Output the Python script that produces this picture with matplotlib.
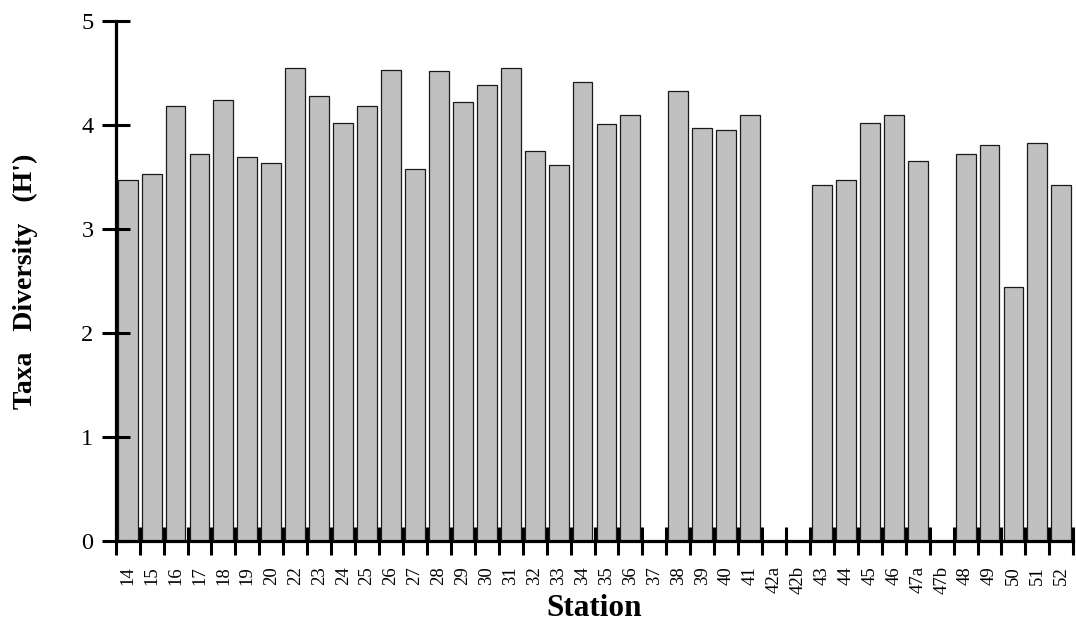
import matplotlib
matplotlib.use("Agg")
import matplotlib.pyplot as plt
import numpy as np

stations = ["14", "15", "16", "17", "18", "19", "20", "22", "23", "24",
            "25", "26", "27", "28", "29", "30", "31", "32", "33", "34",
            "35", "36", "37", "38", "39", "40", "41", "42a", "42b", "43",
            "44", "45", "46", "47a", "47b", "48", "49", "50", "51", "52"]
diversity = [3.47, 3.53, 4.18, 3.72, 4.24, 3.69, 3.63, 4.55, 4.28, 4.02,
             4.18, 4.53, 3.58, 4.52, 4.22, 4.38, 4.55, 3.75, 3.62, 4.41,
             4.01, 4.10, 0.0, 4.33, 3.97, 3.95, 4.10, 0.0, 0.0, 3.42,
             3.47, 4.02, 4.10, 3.65, 0.0, 3.72, 3.81, 2.44, 3.83, 3.42]
y_ticks = [0, 1, 2, 3, 4, 5]

serif = ["Liberation Serif", "DejaVu Serif"]

W, H = 1076, 631
fig = plt.figure(figsize=(W / 100, H / 100), dpi=100)
ax = fig.add_axes([115.7 / W, (H - 541) / H, (1073.3 - 115.7) / W, (541 - 21) / H])

x = np.arange(len(stations))
vals = np.array(diversity)
mask = vals > 0
ax.bar(x[mask], vals[mask], width=0.83, color="#c0c0c0",
       edgecolor="#1a1a1a", linewidth=0.9, zorder=1)

ax.set_xlim(-0.5, len(stations) - 0.5)
ax.set_ylim(0, 5)

for s in ["top", "right"]:
    ax.spines[s].set_visible(False)
for s in ["left", "bottom"]:
    ax.spines[s].set_linewidth(2.3)
    ax.spines[s].set_color("black")

ax.set_yticks(y_ticks)
ax.set_yticklabels([str(v) for v in y_ticks], family=serif, fontsize=17.5)
ax.tick_params(axis="y", direction="inout", length=20, width=2.2, pad=6)

ax.set_xticks(x)
ax.set_xticklabels(stations, rotation=90, family=serif, fontsize=13.5)
ax.set_xticks(np.arange(len(stations) + 1) - 0.5, minor=True)
ax.tick_params(axis="x", which="major", length=0, pad=18)
ax.tick_params(axis="x", which="minor", direction="inout", length=20, width=2.2)

ax.set_ylabel("Taxa   Diversity   (H')", family=serif, fontsize=20,
              fontweight="bold", labelpad=31)
ax.set_xlabel("Station", family=serif, fontsize=22.5, fontweight="bold",
              labelpad=0)

fig.savefig("out.png", dpi=100)
